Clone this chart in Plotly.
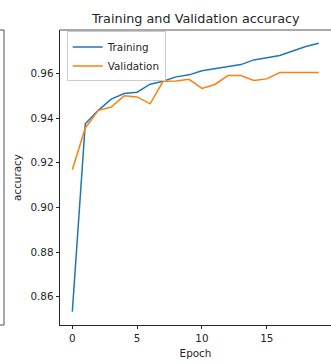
import plotly.graph_objects as go

epochs = list(range(20))
training_acc = [0.8533, 0.9375, 0.9435, 0.9485, 0.9510, 0.9516, 0.9552, 0.9565, 0.9585, 0.9594,
                0.9612, 0.9622, 0.9631, 0.9640, 0.9661, 0.9672, 0.9681, 0.9701, 0.9721, 0.9736]
validation_acc = [0.9169, 0.9356, 0.9435, 0.9450, 0.9500, 0.9495, 0.9464, 0.9565, 0.9567, 0.9574,
                  0.9533, 0.9551, 0.9591, 0.9591, 0.9569, 0.9576, 0.9604, 0.9605, 0.9604, 0.9604]
x_ticks = [0, 5, 10, 15]
y_ticks = [0.86, 0.88, 0.90, 0.92, 0.94, 0.96]

font = "DejaVu Sans"
ink = "#262626"

fig = go.Figure()
fig.add_trace(go.Scatter(x=epochs, y=training_acc, mode="lines", name="Training",
                         line=dict(color="#1f77b4", width=1.5)))
fig.add_trace(go.Scatter(x=epochs, y=validation_acc, mode="lines", name="Validation",
                         line=dict(color="#ff7f0e", width=1.5)))

fig.update_layout(
    width=331, height=364,
    margin=dict(l=60, r=0, t=30, b=39),
    paper_bgcolor="white", plot_bgcolor="white",
    font=dict(family=font, size=10.4, color=ink),
    title=dict(text="Training and Validation accuracy", x=0.5915, xanchor="center",
               y=1 - 19 / 364, yanchor="middle", font=dict(size=12.8, color=ink)),
    showlegend=True,
    legend=dict(x=0.0247, y=0.995, xanchor="left", yanchor="top",
                bgcolor="rgba(255,255,255,0.8)", bordercolor="#cccccc", borderwidth=1,
                font=dict(size=10.4, color=ink)),
    xaxis=dict(range=[-0.95, 19.95], tickvals=x_ticks, ticks="outside", ticklen=3.5,
               tickwidth=0.8, tickcolor=ink, showgrid=False, zeroline=False,
               showline=True, linecolor=ink, linewidth=0.8, mirror=False, automargin=False,
               title=dict(text="Epoch", standoff=6, font=dict(size=10.4))),
    yaxis=dict(range=[0.8473, 0.9795], tickvals=y_ticks, tickformat=".2f", ticks="outside",
               ticklen=3.5, tickwidth=0.8, tickcolor=ink, showgrid=False, zeroline=False,
               showline=True, linecolor=ink, linewidth=0.8, automargin=False,
               title=dict(text="accuracy", standoff=6, font=dict(size=10.4))),
)
# top spine
fig.add_shape(type="line", xref="paper", yref="paper", x0=0, x1=1, y0=1, y1=1,
              line=dict(color=ink, width=0.8))
# edge of neighbouring subplot frame
fig.add_shape(type="rect", xref="paper", yref="paper", x0=-0.3, x1=-56 / 271, y0=0, y1=1,
              line=dict(color=ink, width=0.8))

fig.write_html("out.html", config={"displayModeBar": False},
               post_script="document.body.style.margin='0';")
